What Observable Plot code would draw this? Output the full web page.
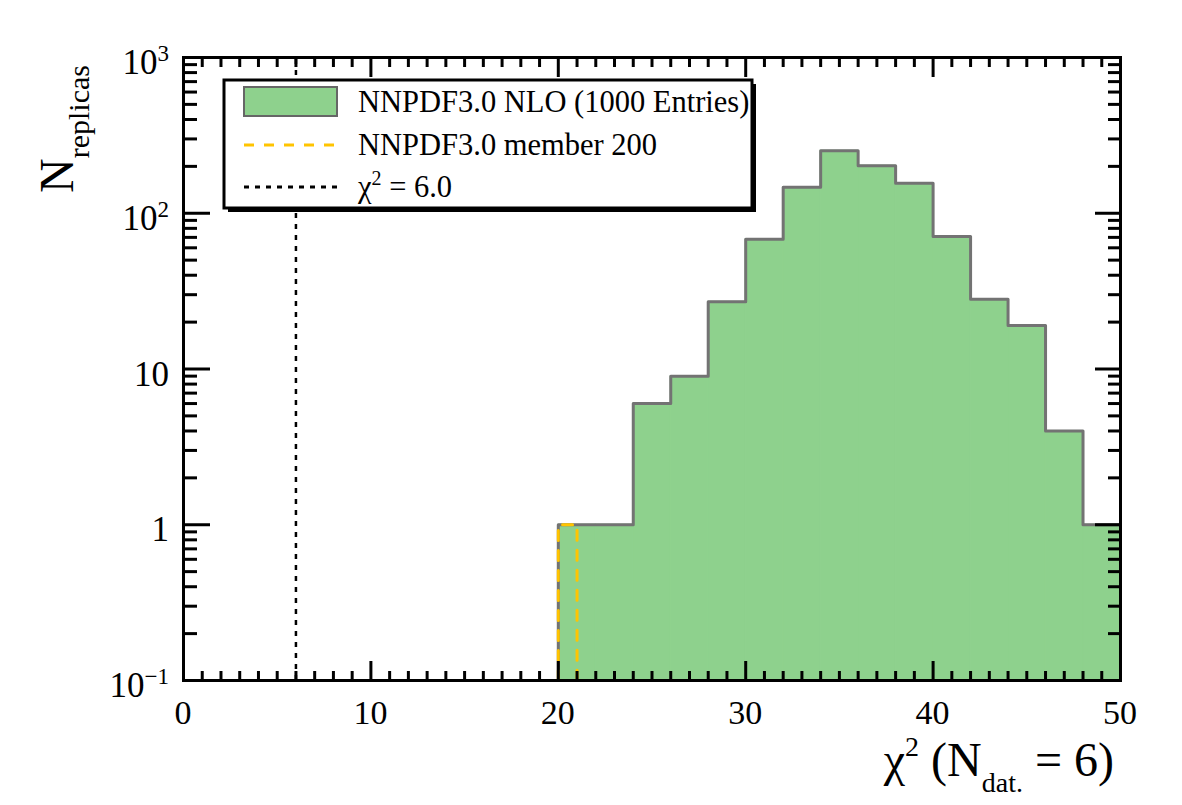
<!DOCTYPE html>
<html><head><meta charset="utf-8">
<script src="https://cdn.jsdelivr.net/npm/d3@7"></script>
<script src="https://cdn.jsdelivr.net/npm/@observablehq/plot@0.6"></script>
<style>body{margin:0;background:#fff} svg{display:block}</style>
</head><body><div id="chart"></div>
<script>
// ---- data ----
const binLow = [20,22,24,26,28,30,32,34,36,38,40,42,44,46,48];
const binWidth = 2;
const nloCounts = [1,1,6,9,27,68,147,252,202,156,71,28,19,4,1];
const memberLow = [20];
const memberHigh = [21];
const memberCounts = [1];
const chi2Ref = [6.0];
const xTicks = [0,10,20,30,40,50];
const xMinorTicks = [1,2,3,4,5,6,7,8,9,11,12,13,14,15,16,17,18,19,21,22,23,24,25,26,27,28,29,31,32,33,34,35,36,37,38,39,41,42,43,44,45,46,47,48,49];
const yTicks = [0.1,1,10,100,1000];
const yTickBase = ["10","1","10","10","10"];
const yTickExp = ["\u22121","","","2","3"];
const yMinorTicks = [0.2,0.3,0.4,0.5,0.6,0.7,0.8,0.9,2,3,4,5,6,7,8,9,20,30,40,50,60,70,80,90,200,300,400,500,600,700,800,900];
const legendLabels = ["NNPDF3.0 NLO (1000 Entries)","NNPDF3.0 member 200","\u03c7"];

const W = 1182, H = 805;
const FONT = "Liberation Serif, Times New Roman, serif";
const green = "#8ed18d", outline = "#737373", gold = "#ffc400";

const bars = binLow.map((x,i)=>({x1:x, x2:x+binWidth, y:nloCounts[i]}));
const outlinePts = [{x:0,y:0.1}, ...binLow.map((x,i)=>({x, y:nloCounts[i]})), {x:binLow[binLow.length-1]+binWidth, y:nloCounts[nloCounts.length-1]}];
const memberPts = [];
memberLow.forEach((x,i)=>{memberPts.push({x,y:0.1},{x,y:memberCounts[i]},{x:memberHigh[i],y:memberCounts[i]},{x:memberHigh[i],y:0.1});});

const tickStyle = {strokeWidth:3, tickFormat:()=>"", label:null, stroke:"black"};

const plot = Plot.plot({
  width: W, height: H,
  marginLeft: 183, marginRight: 62, marginTop: 57, marginBottom: 125,
  style: {fontFamily: FONT, background: "white"},
  x: {domain:[0,50]},
  y: {type:"log", domain:[0.1,1000]},
  marks: [
    Plot.rect(bars, {x1:"x1", x2:"x2", y1:0.1, y2:"y", fill:green, stroke:green, strokeWidth:1}),
    Plot.line(outlinePts, {x:"x", y:"y", curve:"step-after", stroke:outline, strokeWidth:3}),
    Plot.line(memberPts, {x:"x", y:"y", stroke:gold, strokeWidth:3, strokeDasharray:"10,10"}),
    Plot.ruleX(chi2Ref, {y1:0.1, y2:1000, stroke:"black", strokeWidth:2.5, strokeDasharray:"5,6"}),
    Plot.axisX({...tickStyle, ticks:xMinorTicks, anchor:"bottom", tickSize:-9}),
    Plot.axisX({...tickStyle, ticks:xTicks, anchor:"bottom", tickSize:-19}),
    Plot.axisX({...tickStyle, ticks:xMinorTicks, anchor:"top", tickSize:-9}),
    Plot.axisX({...tickStyle, ticks:xTicks, anchor:"top", tickSize:-19}),
    Plot.axisY({...tickStyle, ticks:yMinorTicks, anchor:"left", tickSize:-14}),
    Plot.axisY({...tickStyle, ticks:yTicks, anchor:"left", tickSize:-27}),
    Plot.axisY({...tickStyle, ticks:yMinorTicks, anchor:"right", tickSize:-13}),
    Plot.axisY({...tickStyle, ticks:yTicks, anchor:"right", tickSize:-26}),
    Plot.frame({stroke:"black", strokeWidth:3})
  ]
});
document.getElementById("chart").appendChild(plot);

const svg = d3.select(plot);
const sx = plot.scale("x"), sy = plot.scale("y");
const yBot = sy.apply(0.1);

// x tick labels
const gl = svg.append("g").style("font-family", FONT).attr("fill","black").attr("text-anchor","start");
xTicks.forEach(v=>{
  gl.append("text").attr("x", sx.apply(v)).attr("y", yBot+44).attr("text-anchor","middle")
    .attr("font-size",34).text(String(v));
});
// y tick labels
yTicks.forEach((v,i)=>{
  const t = gl.append("text").attr("x", 169).attr("y", sy.apply(v)+17).attr("text-anchor","end").attr("font-size",35);
  t.append("tspan").text(yTickBase[i]);
  if (yTickExp[i]) t.append("tspan").attr("font-size",23).attr("dy",-13).text(yTickExp[i]);
});
// y axis title
const yt = gl.append("text").attr("transform", `translate(73,193) rotate(-90)`).attr("text-anchor","start").attr("font-size",48);
yt.append("tspan").text("N");
yt.append("tspan").attr("font-size",30).attr("dy",16).text("replicas");
// x axis title
const xt = gl.append("text").attr("x", 1114).attr("y", 776).attr("text-anchor","end").attr("font-size",48);
xt.append("tspan").text("\u03c7");
xt.append("tspan").attr("font-size",28).attr("dy",-20).text("2");
xt.append("tspan").attr("dy",20).text(" (N");
xt.append("tspan").attr("font-size",28).attr("dy",16).text("dat.");
xt.append("tspan").attr("dy",-16).text(" = 6)");

// legend
const lg = svg.append("g").style("font-family", FONT).attr("text-anchor","start").attr("fill","black");
lg.append("rect").attr("x",228).attr("y",84).attr("width",528).attr("height",128).attr("fill","black");
lg.append("rect").attr("x",224).attr("y",80).attr("width",528).attr("height",128).attr("fill","white").attr("stroke","black").attr("stroke-width",3);
lg.append("rect").attr("x",244).attr("y",87).attr("width",93).attr("height",29).attr("fill",green).attr("stroke","#666").attr("stroke-width",2);
lg.append("line").attr("x1",244).attr("x2",337).attr("y1",145).attr("y2",145).attr("stroke",gold).attr("stroke-width",3).attr("stroke-dasharray","10,10");
lg.append("line").attr("x1",244).attr("x2",337).attr("y1",187).attr("y2",187).attr("stroke","black").attr("stroke-width",3).attr("stroke-dasharray","5,6");
lg.append("text").attr("x",358).attr("y",112).attr("font-size",30.5).text(legendLabels[0]);
lg.append("text").attr("x",358).attr("y",155).attr("font-size",30.5).text(legendLabels[1]);
const l3 = lg.append("text").attr("x",358).attr("y",197).attr("font-size",30.5);
l3.append("tspan").text(legendLabels[2]);
l3.append("tspan").attr("font-size",20).attr("dy",-12).text("2");
l3.append("tspan").attr("dy",12).text(" = 6.0");
</script>
</body></html>
